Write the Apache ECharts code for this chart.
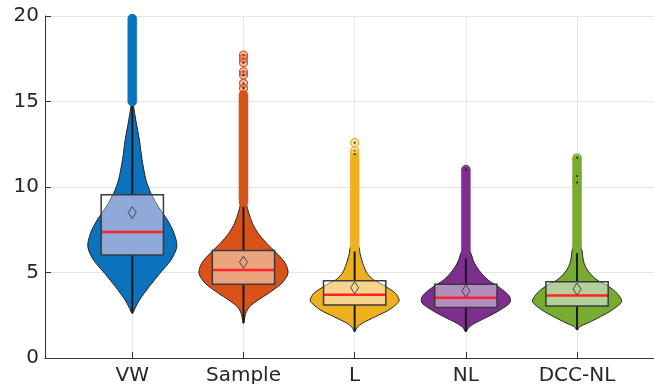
<!DOCTYPE html>
<html>
<head>
<meta charset="utf-8">
<script src="https://cdn.jsdelivr.net/npm/echarts@6/dist/echarts.min.js"></script>
<style>html,body{margin:0;padding:0;background:#fff;overflow:hidden;}#c{width:654px;height:384px;}</style>
</head>
<body>
<div id="c"></div>
<script>
// ---- data ----
const categories = ['VW', 'Sample', 'L', 'NL', 'DCC-NL'];
const yTicks = [0, 5, 10, 15, 20];

// violin outline: [value, relative density (max = 1)]
const vwDensity = [[2.61,0],[2.95,0.07],[3.39,0.16],[4.17,0.38],[4.95,0.62],[5.73,0.87],[6.51,1.0],[7.29,0.94],[8.07,0.79],[8.85,0.58],[9.63,0.42],[10.4,0.31],[11.6,0.22],[12.75,0.16],[13.9,0.08],[14.7,0.03],[15.1,0]];
const sampleDensity = [[2.03,0],[2.6,0.05],[3.0,0.14],[3.39,0.33],[3.78,0.56],[4.37,0.86],[4.95,1.0],[5.54,0.94],[6.12,0.75],[6.71,0.52],[7.29,0.33],[7.88,0.2],[8.46,0.12],[9.05,0.06],[9.6,0]];
const lDensity = [[1.54,0],[1.8,0.06],[2.03,0.17],[2.42,0.47],[2.81,0.77],[3.2,0.96],[3.39,1.0],[3.78,0.92],[4.17,0.7],[4.56,0.43],[4.95,0.28],[5.34,0.21],[5.73,0.16],[6.12,0.12],[6.47,0.1],[7.0,0]];
const nlDensity = [[1.54,0],[1.8,0.07],[2.03,0.2],[2.42,0.5],[2.81,0.77],[3.2,0.98],[3.49,1.0],[3.78,0.92],[4.17,0.73],[4.56,0.5],[4.95,0.35],[5.34,0.24],[5.73,0.16],[6.08,0.12],[6.6,0]];
const dccDensity = [[1.64,0],[1.85,0.07],[2.03,0.23],[2.42,0.53],[2.81,0.79],[3.2,0.98],[3.39,1.0],[3.78,0.9],[4.17,0.72],[4.56,0.45],[4.95,0.29],[5.34,0.19],[5.73,0.14],[6.41,0.1],[6.9,0]];

// box statistics
const q1Values     = [6.02, 4.31, 3.10, 2.96, 3.04];
const medianValues = [7.37, 5.15, 3.70, 3.53, 3.65];
const q3Values     = [9.55, 6.28, 4.52, 4.31, 4.46];
const meanValues   = [8.50, 5.60, 4.11, 3.92, 4.03];
const whiskerLow   = [2.61, 2.03, 1.54, 1.54, 1.64];
const whiskerHigh  = [14.8, 9.05, 6.50, 6.10, 6.40];

// outliers: dense run [from, to] and separate points
const outlierRunFrom = [15.0, 9.1, 6.5, 6.1, 6.4];
const outlierRunTo   = [19.85, 15.4, 11.7, 10.95, 11.6];
const vwOutliers = [];
const sampleOutliers = [17.72, 17.52, 17.27, 16.74, 16.55, 16.06, 15.77];
const lOutliers = [12.59, 12.12, 11.93];
const nlOutliers = [11.03];
const dccOutliers = [11.71, 10.64, 10.27];

// ---- drawing ----
const densities = [vwDensity, sampleDensity, lDensity, nlDensity, dccDensity];
const outliers = [vwOutliers, sampleOutliers, lOutliers, nlOutliers, dccOutliers];
const colors = ['#0B72BD', '#D95319', '#EDB120', '#7E2F8E', '#77AC30'];
const boxFills = ['#8FAAD8', '#EBA47E', '#F5D48E', '#B18CBD', '#B5CF9B'];
const MAXW = 0.4, BOXW = 0.28, R = 4.5;

function hexA(hex, a) {
  const n = parseInt(hex.slice(1), 16);
  return 'rgba(' + (n >> 16) + ',' + ((n >> 8) & 255) + ',' + (n & 255) + ',' + a + ')';
}

function renderItem(params, api) {
  const i = params.dataIndex;
  const xc = api.value(0);
  const prof = densities[i];
  const col = colors[i];
  const right = prof.map(p => api.coord([xc + MAXW * p[1], p[0]]));
  const left = prof.slice(1, -1).reverse().map(p => api.coord([xc - MAXW * p[1], p[0]]));
  const outline = right.concat(left);
  const children = [];
  children.push({ type: 'polygon', shape: { points: outline, smooth: 0.3 },
    style: { fill: col, stroke: '#222', lineWidth: 1 } });
  const pLo = api.coord([xc, whiskerLow[i]]), pQ1 = api.coord([xc, q1Values[i]]);
  const pQ3 = api.coord([xc, q3Values[i]]), pHi = api.coord([xc, whiskerHigh[i]]);
  children.push({ type: 'line', shape: { x1: pLo[0], y1: pLo[1], x2: pQ1[0], y2: pQ1[1] }, style: { stroke: '#1a1a1a', lineWidth: 2 } });
  children.push({ type: 'line', shape: { x1: pQ3[0], y1: pQ3[1], x2: pHi[0], y2: pHi[1] }, style: { stroke: '#1a1a1a', lineWidth: 2 } });
  const bTL = api.coord([xc - BOXW, q3Values[i]]), bBR = api.coord([xc + BOXW, q1Values[i]]);
  const rect = { x: bTL[0], y: bTL[1], width: bBR[0] - bTL[0], height: bBR[1] - bTL[1] };
  children.push({ type: 'rect', shape: rect, style: { fill: boxFills[i] },
    clipPath: { type: 'polygon', shape: { points: outline, smooth: 0.3 } } });
  const mL = api.coord([xc - BOXW, medianValues[i]]), mR = api.coord([xc + BOXW, medianValues[i]]);
  children.push({ type: 'line', shape: { x1: mL[0], y1: mL[1], x2: mR[0], y2: mR[1] }, style: { stroke: '#FF2424', lineWidth: 2.5 } });
  children.push({ type: 'rect', shape: rect, style: { fill: null, stroke: '#3a3a3a', lineWidth: 1.5 } });
  const pm = api.coord([xc, meanValues[i]]);
  children.push({ type: 'polygon', shape: { points: [[pm[0], pm[1] - 6], [pm[0] + 4, pm[1]], [pm[0], pm[1] + 6], [pm[0] - 4, pm[1]]] },
    style: { fill: null, stroke: '#444', lineWidth: 1 } });
  const oTop = api.coord([xc, outlierRunTo[i]]), oBot = api.coord([xc, outlierRunFrom[i]]);
  children.push({ type: 'rect', shape: { x: oTop[0] - R, y: oTop[1] - R, width: 2 * R, height: oBot[1] - oTop[1] + 2 * R, r: R },
    style: { fill: col, stroke: col, lineWidth: 0.5 } });
  outliers[i].forEach(v => {
    const p = api.coord([xc, v]);
    children.push({ type: 'circle', shape: { cx: p[0], cy: p[1], r: R - 0.5 }, style: { fill: hexA(col, 0.35), stroke: col, lineWidth: 1.2 } });
    children.push({ type: 'circle', shape: { cx: p[0], cy: p[1], r: 1 }, style: { fill: '#222' } });
  });
  return { type: 'group', children: children };
}

const chart = echarts.init(document.getElementById('c'), null, { renderer: 'canvas' });
const txt = { color: '#262626', fontFamily: 'DejaVu Sans', fontSize: 20 };
chart.setOption({
  animation: false,
  grid: { left: 45, top: 16, width: 621, height: 342, containLabel: false, outerBoundsMode: 'none' },
  xAxis: {
    type: 'value', min: 0.215, max: 5.8,
    axisLine: { show: true, lineStyle: { color: '#333', width: 1 } },
    axisTick: { show: true, inside: true, length: 6, lineStyle: { color: '#333' }, customValues: [1, 2, 3, 4, 5] },
    axisLabel: Object.assign({ margin: 8, customValues: [1, 2, 3, 4, 5], formatter: v => categories[Math.round(v) - 1] || '' }, txt),
    splitLine: { show: true, lineStyle: { color: '#e6e6e6', width: 1 } }
  },
  yAxis: {
    type: 'value', min: yTicks[0], max: yTicks[yTicks.length - 1], interval: 5,
    axisLine: { show: true, lineStyle: { color: '#333', width: 1 } },
    axisTick: { show: true, inside: true, length: 6, lineStyle: { color: '#333' } },
    axisLabel: Object.assign({ margin: 6, padding: [3, 0, 0, 0] }, txt),
    splitLine: { show: true, lineStyle: { color: '#e6e6e6', width: 1 } }
  },
  series: [{
    type: 'custom', clip: false,
    data: categories.map((c, i) => [i + 1]),
    renderItem: renderItem
  }]
});
</script>
</body>
</html>
